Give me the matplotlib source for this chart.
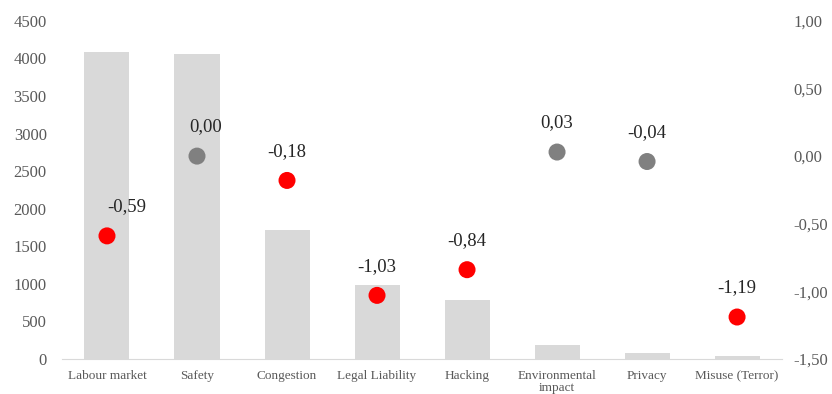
import matplotlib
matplotlib.use("Agg")
import matplotlib.pyplot as plt
from matplotlib.ticker import FuncFormatter

categories = ["Labour market", "Safety", "Congestion", "Legal Liability", "Hacking",
              "Environmental\nimpact", "Privacy", "Misuse (Terror)"]
counts = [4090, 4060, 1710, 990, 780, 180, 80, 40]
scores = [-0.59, 0.00, -0.18, -1.03, -0.84, 0.03, -0.04, -1.19]
score_labels = ["-0,59", "0,00", "-0,18", "-1,03", "-0,84", "0,03", "-0,04", "-1,19"]
label_dx = [14, 6, 0, 0, 0, 0, 0, 0]

plt.rcParams['font.family'] = ['Liberation Serif', 'DejaVu Serif']

fig = plt.figure(figsize=(8.32, 3.94), dpi=100)
ax = fig.add_axes([0.0745, 0.089, 0.8655, 0.858])
x = list(range(len(categories)))
ax.bar(x, counts, width=0.5, color="#d9d9d9", zorder=1)
ax.set_xlim(-0.5, len(categories) - 0.5)
ax.set_ylim(0, 4500)
ax.set_yticks(range(0, 4501, 500))
ax.set_xticks(x)
ax.set_xticklabels(categories, fontsize=9.5, color="#404040", linespacing=1.0)
ax.tick_params(axis='both', length=0, colors="#595959")
ax.tick_params(axis='x', pad=8, labelsize=9.5)
ax.tick_params(axis='y', pad=11, labelsize=12)
for s in ['top', 'right', 'left']:
    ax.spines[s].set_visible(False)
ax.spines['bottom'].set_color("#d9d9d9")

ax2 = ax.twinx()
ax2.set_ylim(-1.5, 1.0)
ax2.set_yticks([1.0, 0.5, 0.0, -0.5, -1.0, -1.5])
ax2.yaxis.set_major_formatter(FuncFormatter(lambda v, p: f"{v:.2f}".replace('.', ',')))
ax2.tick_params(axis='y', length=0, colors="#595959", labelsize=12, pad=8)
for s in ['top', 'right', 'left', 'bottom']:
    ax2.spines[s].set_visible(False)
colors = ["#ff0000" if v < -0.1 else "#808080" for v in scores]
ax2.scatter(x, scores, s=150, c=colors, zorder=3, edgecolors='none')
for xi, v, lab, dx in zip(x, scores, score_labels, label_dx):
    ax2.annotate(lab, (xi, v), xytext=(dx, 21), textcoords='offset points',
                 ha='center', va='center', fontsize=13.5, color="#262626")

fig.savefig("out.png", dpi=100)
